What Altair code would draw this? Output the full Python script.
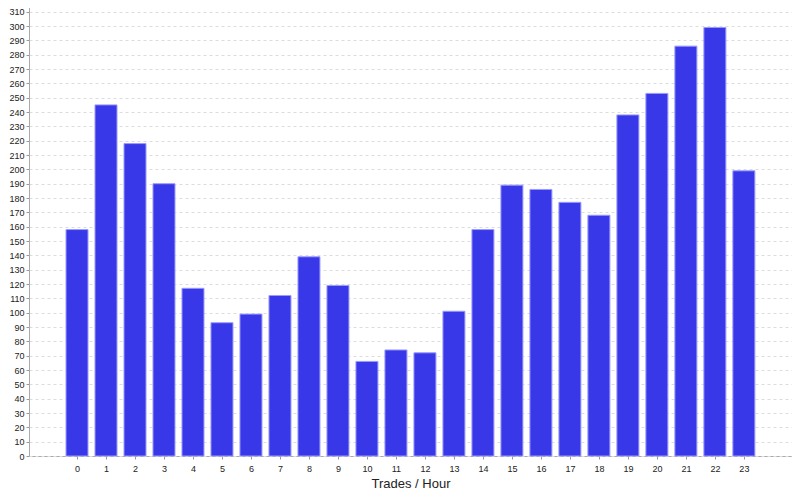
import altair as alt
import pandas as pd

hours = list(range(24))
trades = [158, 245, 218, 190, 117, 93, 99, 112, 139, 119, 66, 74, 72, 101,
          158, 189, 186, 177, 168, 238, 253, 286, 299, 199]

df = pd.DataFrame({"hour": hours, "trades": trades})

chart = alt.Chart(df).mark_bar(
    color="#3838e8", stroke="#9a9aff", strokeWidth=1, size=22
).encode(
    x=alt.X("hour:Q", scale=alt.Scale(domain=[-1.656, 24.66], nice=False, zero=False, padding=0),
            axis=alt.Axis(title="Trades / Hour", values=hours, format="d",
                          labelAngle=0, ticks=True, tickSize=3, tickColor="#999",
                          domain=False, labelFontSize=9, labelPadding=5,
                          labelFont="Liberation Sans", labelColor="#222",
                          titleFont="Liberation Sans", titleFontSize=13,
                          titleFontWeight="normal", titleColor="#222",
                          titlePadding=4, grid=False)),
    y=alt.Y("trades:Q", scale=alt.Scale(domain=[0, 314], nice=False),
            axis=alt.Axis(title=None, values=list(range(0, 320, 10)),
                          labelFontSize=9, labelFont="Liberation Sans",
                          labelColor="#222", tickSize=3, tickColor="#999",
                          labelPadding=2, domain=False,
                          gridDash=[3, 3], gridColor="#dcdcdc", grid=True)),
).properties(
    width=763, height=450,
    background="white",
    autosize=alt.AutoSizeParams(type="none"),
    padding={"left": 21, "top": -2, "right": 0, "bottom": 35},
).configure_view(
    stroke="#aaaaaa", strokeWidth=1
)

chart.save("out.html", embed_options={"renderer": "svg", "actions": False})
